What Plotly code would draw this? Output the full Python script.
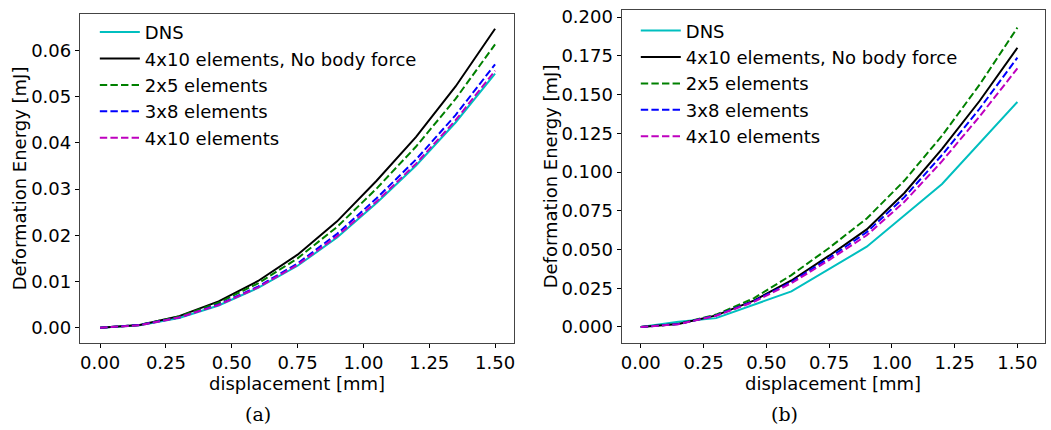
import plotly.graph_objects as go

# ---------------- data ----------------
x_model = [0.0, 0.15, 0.30, 0.45, 0.60, 0.75, 0.90, 1.05, 1.20, 1.35, 1.50]

# (a)
a_dns_x = x_model
a_dns = [0, 0.0005, 0.0021, 0.0048, 0.0086, 0.0134, 0.0195, 0.0270, 0.0351, 0.0444, 0.0550]
a_nobody = [0, 0.0006, 0.0025, 0.0057, 0.0101, 0.0158, 0.0230, 0.0318, 0.0413, 0.0522, 0.0647]
a_2x5 = [0, 0.0006, 0.0024, 0.0054, 0.0096, 0.0150, 0.0218, 0.0301, 0.0392, 0.0495, 0.0613]
a_3x8 = [0, 0.0006, 0.0022, 0.0050, 0.0089, 0.0139, 0.0203, 0.0280, 0.0364, 0.0460, 0.0570]
a_4x10 = [0, 0.0005, 0.0022, 0.0049, 0.0087, 0.0136, 0.0198, 0.0273, 0.0355, 0.0449, 0.0556]

# (b)
b_dns_x = [0.0, 0.15, 0.30, 0.60, 0.90, 1.20, 1.50]
b_dns = [0, 0.0033, 0.0057, 0.0230, 0.0518, 0.0923, 0.1452]
b_nobody = [0, 0.0019, 0.0075, 0.0170, 0.0300, 0.0460, 0.0630, 0.0865, 0.1150, 0.1460, 0.1802]
b_2x5 = [0, 0.0020, 0.0080, 0.0185, 0.0335, 0.0510, 0.0700, 0.0945, 0.1235, 0.1565, 0.1932]
b_3x8 = [0, 0.0019, 0.0074, 0.0166, 0.0290, 0.0445, 0.0612, 0.0838, 0.1110, 0.1410, 0.1738]
b_4x10 = [0, 0.0018, 0.0072, 0.0162, 0.0282, 0.0432, 0.0592, 0.0808, 0.1070, 0.1360, 0.1669]

names = ["DNS", "4x10 elements, No body force", "2x5 elements", "3x8 elements", "4x10 elements"]
colors = ["#00BFBF", "#000000", "#008000", "#0000FF", "#BF00BF"]
dashes = ["solid", "solid", "7.4px,3.2px", "7.4px,3.2px", "7.4px,3.2px"]

x_ticks = [0.0, 0.25, 0.5, 0.75, 1.0, 1.25, 1.5]
a_yticks = [0.0, 0.01, 0.02, 0.03, 0.04, 0.05, 0.06]
b_yticks = [0.0, 0.025, 0.05, 0.075, 0.1, 0.125, 0.15, 0.175, 0.2]

FONT = "DejaVu Sans"
FS = 18

fig = go.Figure()

a_sets = [(a_dns_x, a_dns), (x_model, a_nobody), (x_model, a_2x5), (x_model, a_3x8), (x_model, a_4x10)]
b_sets = [(b_dns_x, b_dns), (x_model, b_nobody), (x_model, b_2x5), (x_model, b_3x8), (x_model, b_4x10)]

for i, (xs, ys) in enumerate(a_sets):
    fig.add_trace(go.Scatter(x=xs, y=ys, mode="lines", name=names[i],
                             line=dict(color=colors[i], width=2, dash=dashes[i]),
                             xaxis="x", yaxis="y", legend="legend"))
for i, (xs, ys) in enumerate(b_sets):
    fig.add_trace(go.Scatter(x=xs, y=ys, mode="lines", name=names[i],
                             line=dict(color=colors[i], width=2, dash=dashes[i]),
                             xaxis="x2", yaxis="y2", legend="legend2"))

W, H = 1051, 430
axcommon = dict(showgrid=False, zeroline=False, showline=True, mirror=True,
                linecolor="#444444", linewidth=1, ticks="outside", ticklen=4,
                tickcolor="#000000", tickfont=dict(family=FONT, size=FS, color="#000000"))

fig.update_layout(
    width=W, height=H, margin=dict(l=0, r=0, t=0, b=0),
    paper_bgcolor="white", plot_bgcolor="white",
    font=dict(family=FONT, size=FS, color="#000000"),
    xaxis=dict(domain=[79 / W, 514 / W], range=[-0.077, 1.572], tickvals=x_ticks,
               tickformat=".2f", anchor="y", **axcommon),
    yaxis=dict(domain=[1 - 342 / H, 1 - 10 / H], range=[-0.00328, 0.0679], tickvals=a_yticks,
               tickformat=".2f", anchor="x", **axcommon),
    xaxis2=dict(domain=[621.7 / W, 1046 / W], range=[-0.0767, 1.610], tickvals=x_ticks,
                tickformat=".2f", anchor="y2", **axcommon),
    yaxis2=dict(domain=[1 - 341.7 / H, 1 - 6.5 / H], range=[-0.01004, 0.2043], tickvals=b_yticks,
                tickformat=".3f", anchor="x2", **axcommon),
    legend=dict(x=94 / W, y=1 - 10 / H, xanchor="left", yanchor="top",
                bgcolor="rgba(0,0,0,0)", font=dict(family=FONT, size=FS),
                itemwidth=40, tracegroupgap=0),
    legend2=dict(x=636 / W, y=1 - 8.5 / H, xanchor="left", yanchor="top",
                 bgcolor="rgba(0,0,0,0)", font=dict(family=FONT, size=FS),
                 itemwidth=40, tracegroupgap=0),
    showlegend=True,
)

annots = [
    dict(text="displacement [mm]", x=296.5 / W, y=1 - 383 / H),
    dict(text="displacement [mm]", x=834 / W, y=1 - 383 / H),
    dict(text="Deformation Energy [mJ]", x=18 / W, y=1 - 176 / H, textangle=-90),
    dict(text="Deformation Energy [mJ]", x=550 / W, y=1 - 174 / H, textangle=-90),
    dict(text="(a)", x=257 / W, y=1 - 414 / H, font=dict(family="DejaVu Serif", size=19)),
    dict(text="(b)", x=785 / W, y=1 - 414 / H, font=dict(family="DejaVu Serif", size=19)),
]
for a in annots:
    a.setdefault("font", dict(family=FONT, size=FS))
    fig.add_annotation(xref="paper", yref="paper", showarrow=False,
                       xanchor="center", yanchor="middle", **a)

fig.write_html("out.html")
